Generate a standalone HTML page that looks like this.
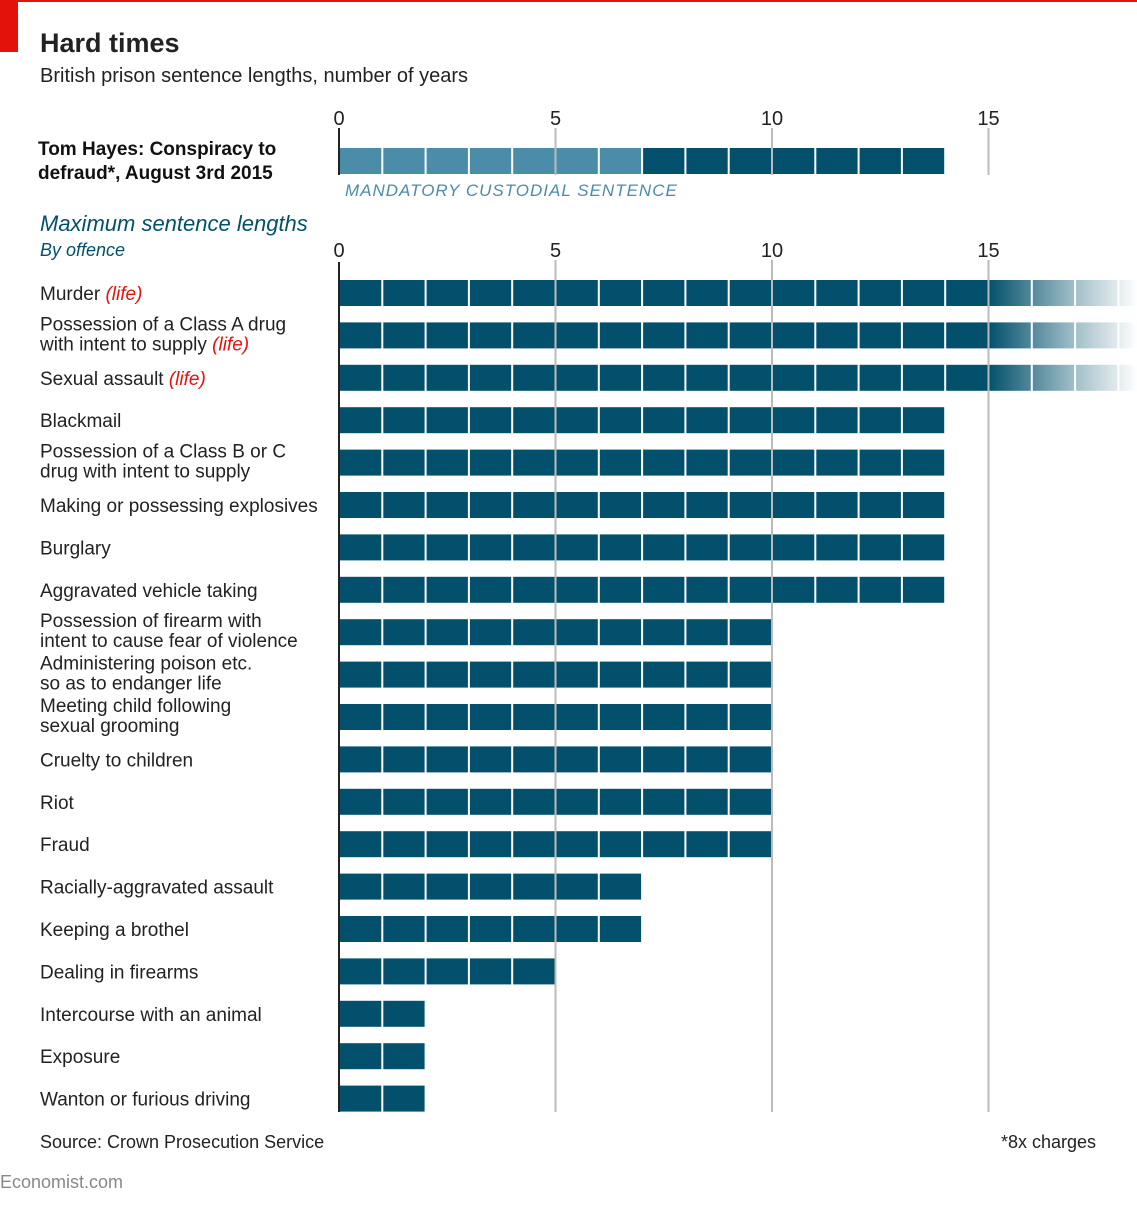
<!DOCTYPE html>
<html><head><meta charset="utf-8"><style>
body{margin:0;background:#fff;width:1137px;height:1200px;overflow:hidden;font-family:"Liberation Sans",sans-serif}
svg text{font-family:"Liberation Sans",sans-serif}
</style></head><body>
<svg id="c" width="1137" height="1200">
<rect x="0" y="0" width="1137" height="2" fill="#e3120b"/>
<rect x="0" y="0" width="18" height="52" fill="#e3120b"/>
<text x="40" y="52" font-size="27" font-weight="bold" fill="#222">Hard times</text>
<text x="40" y="82" font-size="20" fill="#222">British prison sentence lengths, number of years</text>
<text x="38" y="155" font-size="19" font-weight="bold" fill="#111">Tom Hayes: Conspiracy to</text>
<text x="38" y="179" font-size="19" font-weight="bold" fill="#111">defraud*, August 3rd 2015</text>
<text x="345" y="196" font-size="17" font-style="italic" fill="#4b8ca8" letter-spacing="1">MANDATORY CUSTODIAL SENTENCE</text>
<text x="40" y="231" font-size="22" font-style="italic" fill="#02506b">Maximum sentence lengths</text>
<text x="40" y="256" font-size="18" font-style="italic" fill="#02506b">By offence</text>
<text x="40" y="1148" font-size="18" fill="#222">Source: Crown Prosecution Service</text>
<text x="1096" y="1148" font-size="18" fill="#222" text-anchor="end">*8x charges</text>
<text x="0" y="1188" font-size="18" fill="#888">Economist.com</text>
<defs><linearGradient id="fade" x1="988" x2="1137" y1="0" y2="0" gradientUnits="userSpaceOnUse">
<stop offset="0" stop-color="#fff" stop-opacity="0"/><stop offset="0.55" stop-color="#fff" stop-opacity="0.6"/><stop offset="1" stop-color="#fff" stop-opacity="1"/></linearGradient></defs>
<g id="g"></g>
</svg>
<script>
const ticks=[0,5,10,15];
const hayesTotal=14, hayesMandatory=7;
const offences=["Murder","Possession of a Class A drug|with intent to supply","Sexual assault","Blackmail","Possession of a Class B or C|drug with intent to supply","Making or possessing explosives","Burglary","Aggravated vehicle taking","Possession of firearm with|intent to cause fear of violence","Administering poison etc.|so as to endanger life","Meeting child following|sexual grooming","Cruelty to children","Riot","Fraud","Racially-aggravated assault","Keeping a brothel","Dealing in firearms","Intercourse with an animal","Exposure","Wanton or furious driving"];
const years=[Infinity,Infinity,Infinity,14,14,14,14,14,10,10,10,10,10,10,7,7,5,2,2,2];
const NS="http://www.w3.org/2000/svg",g=document.getElementById('g');
const x=v=>339+v*43.3;
const y=i=>293+i*42.4;
function mk(t,a,p){const e=document.createElementNS(NS,t);for(const k in a)e.setAttribute(k,a[k]);(p||g).appendChild(e);return e;}
function block(v,cy,col){const r=mk('rect',{x:x(v)+1,y:cy-13,width:41.3,height:26,fill:col});

}
// hayes
for(let k=0;k<hayesTotal;k++)block(k,161,k<hayesMandatory?'#4b8ca8':'#02506b');
years.forEach((v,i)=>{const n=v===Infinity?19:v;for(let k=0;k<n;k++)block(k,y(i),'#02506b');
 const lines=offences[i].split('|');const life=v===Infinity;
 lines.forEach((l,j)=>{const t=mk('text',{x:40,y:y(i)+7+(lines.length>1?(j-0.5)*20-2:0),'font-size':19,fill:'#222'});
 
 
 t.textContent=l;
 if(life&&j==lines.length-1){const s=document.createElementNS(NS,'tspan');s.setAttribute('fill','#e3120b');s.setAttribute('font-style','italic');s.textContent=' (life)';t.appendChild(s);}});
 if(life){const f=mk('rect',{x:988,y:y(i)-14,width:149,height:28,fill:'url(#fade)'});
 
 }
});
ticks.forEach(t=>{
 [[108,175],[240,1112]].forEach(([a,b],j)=>{
 if(t>0){const l=mk('line',{x1:x(t),x2:x(t),y1:a+20,y2:b,stroke:'#bbb','stroke-width':2});
 
 }
 const tx=mk('text',{x:x(t),y:a+17,'font-size':20,fill:'#222','text-anchor':'middle'});
 
 
 tx.textContent=t;});
});
[[128,175],[262,1112]].forEach(([a,b])=>{const l=mk('line',{x1:339,x2:339,y1:a,y2:b,stroke:'#222','stroke-width':2});

});
</script>
</body></html>
